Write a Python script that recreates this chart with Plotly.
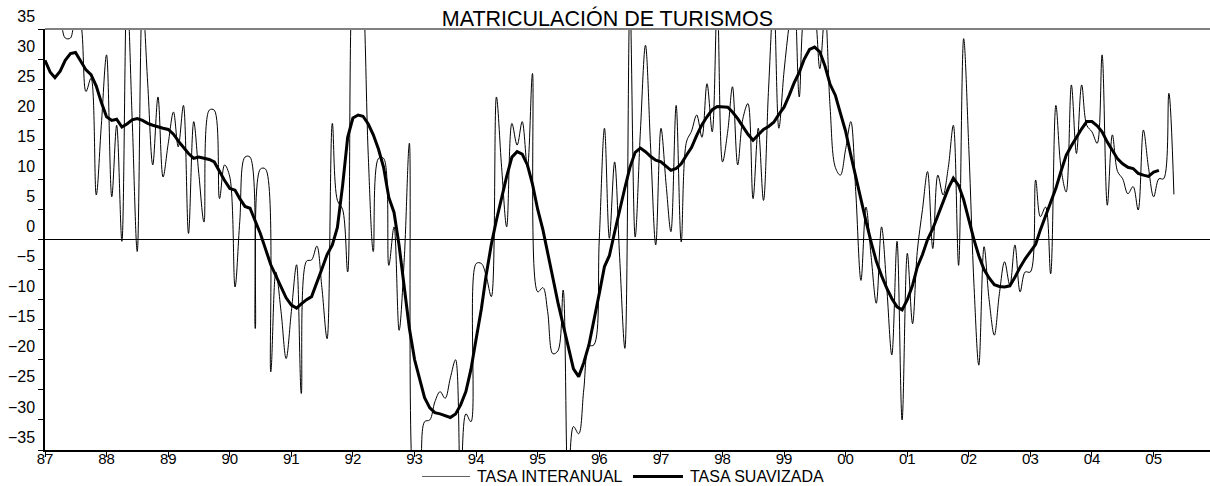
import pandas as pd
import plotly.graph_objects as go

# Monthly series, Jan 1987 onwards
start = "1987-01-01"

tasa_interanual = [
    40, 44, 42, 38, 33.5, 33.5, 38, 36, 24.6, 26.8, 7.4, 19,
    30.7, 7.1, 19, -0.3, 42, 20, -2, 40, 26, 12.4, 23.7, 10.4,
    16, 21.2, 15.4, 22.3, 1, 19.6, 11, 2.9, 21.5, 21.5, 6.8, 12.4,
    10.4, -7.9, 3, 13.7, 13.7, -14.8, 11.7, 11.7, -22, -5.4, -12, -19.8,
    -12, -4.2, -25.6, -3.6, -3.4, -1.1, -8, -16.5, 19.3, 6.5, 5, -5.4,
    45, 50, 42, 14, -2, 13.5, 13.5, -4.3, 2.1, -15.1, -3, 16,
    -42, -40, -30.3, -30, -27, -25.3, -26.4, -23, -20, -42, -29, -30.3,
    -4, -4, -6, -9.5, 23.7, 12, 2.1, 19.3, 15.7, 19.6, 12, 27.6,
    -8.7, -8, -12, -19, -18.5, -8.4, -42, -31.1, -32.3, -25, -17.8, -17.5,
    0, 18.5, 0.2, 12.9, -3, -18.1, 40, 0.4, 18, 32.3, 15, -0.9,
    18.5, 9, 1.3, 22.3, -0.4, 16.2, 18, 20.7, 17, 25.9, 17.9, 40,
    12.9, 18, 25.4, 12.4, 20, 22.6, 6.8, 18.5, 6.5, 25, 40, 18.5,
    28, 36, 42, 23.7, 38, 40, 38, 28.4, 38, 22, 12, 10.7,
    15, 19.6, 8, -6.8, 5.4, -3, -10.6, 2.1, -8, -19.2, -0.3, -30,
    -2.3, -14, -2, 5, 11.3, -1.5, 10.7, 7.4, 12, 19, -4.3, 33.4,
    15, -8, -20.9, -1.2, -10, -15.9, -9, -3.7, -7.6, -0.9, -8.7, -5.4,
    -5.4, 9.9, 3.8, 5.4, -5.7, 22.3, 12, 7.9, 25.7, 14.3, 25.7, 19,
    17.9, 16, 30.7, 5.7, 17.4, 11.3, 10.1, 7.6, 8.8, 4.9, 18.2, 12,
    7.1, 10.1, 10.1, 24.3, 7.5,
]

tasa_suavizada = [
    29.8, 27.8, 26.9, 28.0, 29.8, 30.9, 31.1, 29.6, 28.2, 27.4, 25.5, 22.8,
    20.4, 19.8, 20.0, 18.7, 19.2, 19.9, 20.1, 19.8, 19.3, 19.0, 18.7, 18.5,
    18.3, 17.5, 16.4, 15.4, 14.3, 13.5, 13.7, 13.5, 13.3, 12.9, 11.3, 9.8,
    8.5, 8.2, 6.8, 5.5, 5.2, 3.2, 1.0, -1.6, -4.2, -6.0, -7.9, -9.7,
    -10.9, -11.4, -10.7, -10.0, -9.5, -7.3, -4.9, -2.5, -0.9, 2.0, 9.0, 17.0,
    20.2, 20.7, 20.5, 19.2, 17.4, 15.0, 12.0, 7.0, 4.5, -1.0, -8.5, -14.8,
    -20.0, -23.5, -26.3, -28.0, -28.8, -29.0, -29.3, -29.6, -29.0, -27.5, -25.3, -21.6,
    -16.5, -11.5, -6.0, -0.8, 3.2, 7.0, 10.5, 13.7, 14.6, 14.2, 12.4, 9.2,
    5.0, 1.6, -2.0, -6.4, -10.5, -14.2, -18.0, -21.5, -22.8, -20.5, -17.5, -13.5,
    -9.0, -4.5, -2.7, 1.2, 5.0, 8.6, 12.0, 14.5, 15.2, 14.6, 13.8, 13.2,
    12.9, 12.2, 11.5, 11.8, 12.6, 14.0, 15.3, 17.3, 19.1, 20.4, 21.6, 22.1,
    22.1, 22.0, 21.2, 20.1, 18.8, 17.5, 16.5, 17.4, 18.3, 18.8, 19.5, 20.8,
    22.0, 24.0, 26.0, 27.8, 30.0, 31.6, 32.0, 31.2, 28.8, 25.8, 24.0, 21.0,
    18.0, 14.0, 10.3, 6.5, 3.0, -0.5, -3.6, -6.0, -8.1, -9.8, -11.2, -11.7,
    -10.0, -7.6, -4.6, -2.5, 0.0, 1.8, 4.0, 6.3, 8.5, 10.2, 9.0, 6.6,
    3.2, -0.1, -2.7, -5.0, -6.4, -7.5, -7.8, -7.9, -7.7, -6.3, -4.6, -3.2,
    -2.0, -0.8, 1.6, 4.0, 6.2, 8.5, 11.3, 14.0, 15.6, 17.0, 18.4, 19.6,
    19.6, 18.9, 17.9, 16.2, 14.8, 13.4, 12.6, 12.0, 11.8, 11.0, 10.7, 10.5,
    11.2, 11.5,
]

series_names = ["TASA INTERANUAL", "TASA SUAVIZADA"]

dates_thin = pd.date_range(start, periods=len(tasa_interanual), freq="MS")
dates_thick = pd.date_range(start, periods=len(tasa_suavizada), freq="MS")

FONT = "Liberation Sans, Arial, sans-serif"

fig = go.Figure()
fig.add_trace(go.Scatter(
    x=dates_thin, y=tasa_interanual, mode="lines", name=series_names[0],
    line=dict(color="black", width=1, shape="spline", smoothing=1.0),
    showlegend=False,
))
fig.add_trace(go.Scatter(
    x=dates_thick, y=tasa_suavizada, mode="lines", name=series_names[1],
    line=dict(color="black", width=3),
    showlegend=False,
))

# top border line of the plot area
fig.add_shape(type="line", xref="paper", yref="paper", x0=0, x1=1, y0=1, y1=1,
              line=dict(color="#808080", width=2))

# legend drawn below the axis (paper coords)
LEG_Y = -0.0629
legend_items = [
    (0.3236, 0.3648, 0.3691, series_names[0], 1, "#606060"),
    (0.5047, 0.5476, 0.5519, series_names[1], 3, "black"),
]
for x0, x1, xt, label, w, col in legend_items:
    fig.add_shape(type="line", xref="paper", yref="paper", x0=x0, x1=x1,
                  y0=LEG_Y, y1=LEG_Y, line=dict(color=col, width=w))
    fig.add_annotation(text=label, xref="paper", yref="paper", x=xt, y=LEG_Y,
                       xanchor="left", yanchor="middle", showarrow=False,
                       font=dict(size=16, family=FONT, color="black"))

fig.update_layout(
    template="none",
    width=1210, height=486,
    margin=dict(l=45, r=0, t=29, b=36, autoexpand=False),
    paper_bgcolor="white", plot_bgcolor="white",
    font=dict(family=FONT, size=16, color="black"),
    title=dict(text="MATRICULACIÓN DE TURISMOS", x=0.502, xanchor="center",
               y=0.963, yanchor="middle", font=dict(size=21.5, family=FONT)),
    showlegend=False,
    xaxis=dict(
        type="date", range=["1987-01-01", "2005-12-01"],
        tickformat="%y", dtick="M12", tick0="1987-01-01",
        showgrid=False, zeroline=False,
        showline=True, linecolor="black", linewidth=1.5,
        ticks="outside", ticklen=5, tickcolor="black",
        tickfont=dict(size=15, family=FONT), ticklabelstandoff=-11,
    ),
    yaxis=dict(
        range=[-35, 35], dtick=5, tick0=0,
        showgrid=False,
        zeroline=True, zerolinecolor="black", zerolinewidth=1,
        showline=True, linecolor="black", linewidth=1.5,
        ticks="outside", ticklen=5, tickcolor="black",
        tickfont=dict(size=16, family=FONT), ticklabelshift=-13,
    ),
)

fig.write_html(
    "out.html",
    config={"displayModeBar": False},
    post_script="document.body.style.margin='0';document.body.style.padding='0';",
)
